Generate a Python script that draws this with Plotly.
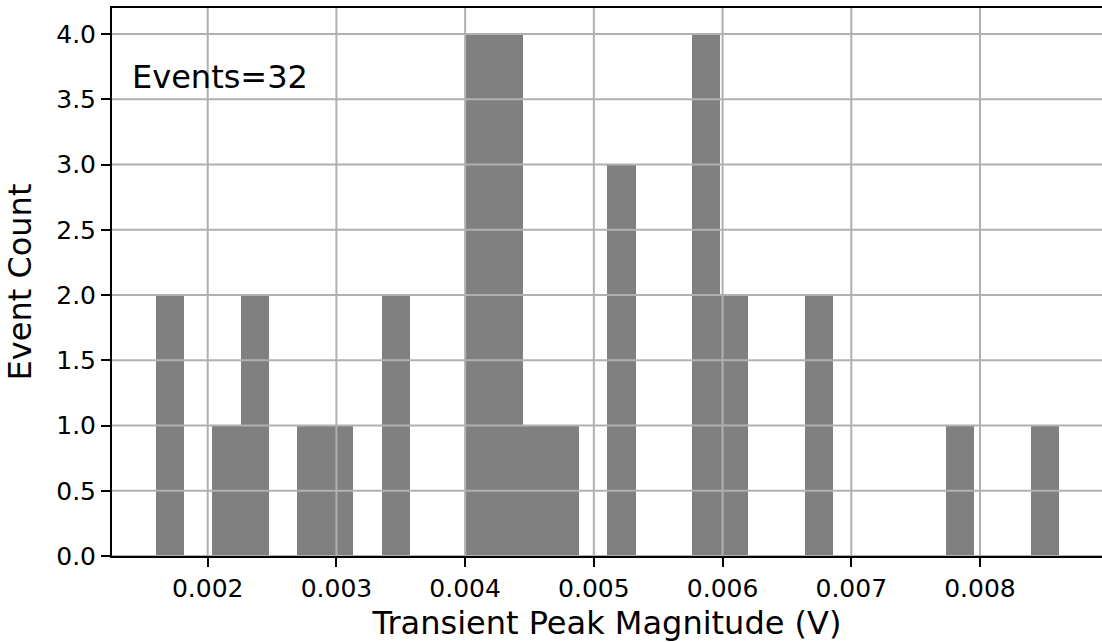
import numpy as np
import plotly.graph_objects as go

# Histogram of transient peak magnitudes: 32 bins spanning the observed range
x_min = 0.001598
x_max = 0.008612
bin_counts = [2, 0, 1, 2, 0, 1, 1, 0, 2, 0, 0, 4, 4, 1, 1, 0,
              3, 0, 0, 4, 2, 0, 0, 2, 0, 0, 0, 0, 1, 0, 0, 1]
x_ticks = [0.002, 0.003, 0.004, 0.005, 0.006, 0.007, 0.008]
y_ticks = [0.0, 0.5, 1.0, 1.5, 2.0, 2.5, 3.0, 3.5, 4.0]
x_range = [0.0012564, 0.008948]
y_range = [0.0, 4.2]
n_events = 32

edges = np.linspace(x_min, x_max, len(bin_counts) + 1)
centers = (edges[:-1] + edges[1:]) / 2
width = edges[1] - edges[0]

FONT = "DejaVu Sans"
GRID = "#b0b0b0"

fig = go.Figure()
fig.add_trace(go.Bar(
    x=centers, y=bin_counts, width=width,
    marker=dict(color="#808080", line=dict(width=0)),
    hoverinfo="x+y",
))

# grid lines drawn on top of the bars
shapes = []
for t in x_ticks:
    shapes.append(dict(type="line", xref="x", yref="paper", x0=t, x1=t, y0=0, y1=1,
                       line=dict(color=GRID, width=2), layer="above"))
for t in y_ticks:
    shapes.append(dict(type="line", xref="paper", yref="y", x0=0, x1=1, y0=t, y1=t,
                       line=dict(color=GRID, width=2), layer="above"))

fig.update_layout(
    width=1102, height=642, autosize=False,
    margin=dict(l=112, r=0, t=8, b=86),
    plot_bgcolor="white", paper_bgcolor="white",
    font=dict(family=FONT, color="black"),
    showlegend=False,
    bargap=0,
    shapes=shapes,
    annotations=[dict(
        text=f"Events={n_events}", xref="paper", yref="paper",
        x=0.0185, y=0.874, xanchor="left", yanchor="middle",
        showarrow=False, font=dict(size=32, family=FONT, color="black"),
    )],
)
fig.update_xaxes(
    range=x_range, tickvals=x_ticks, tickformat=".3f",
    showgrid=False, zeroline=False,
    showline=True, linecolor="black", linewidth=2, mirror=True,
    ticks="outside", ticklen=9, tickwidth=2, tickcolor="black",
    tickfont=dict(size=25, family=FONT),
    title=dict(text="Transient Peak Magnitude (V)", font=dict(size=32, family=FONT), standoff=13),
    layer="above traces",
)
fig.update_yaxes(
    range=y_range, tickvals=y_ticks, tickformat=".1f",
    showgrid=False, zeroline=False,
    showline=True, linecolor="black", linewidth=2, mirror=False,
    ticks="outside", ticklen=9, tickwidth=2, tickcolor="black",
    tickfont=dict(size=25, family=FONT),
    title=dict(text="Event Count", font=dict(size=32, family=FONT), standoff=15),
    layer="above traces",
)

fig.write_html("out.html")
